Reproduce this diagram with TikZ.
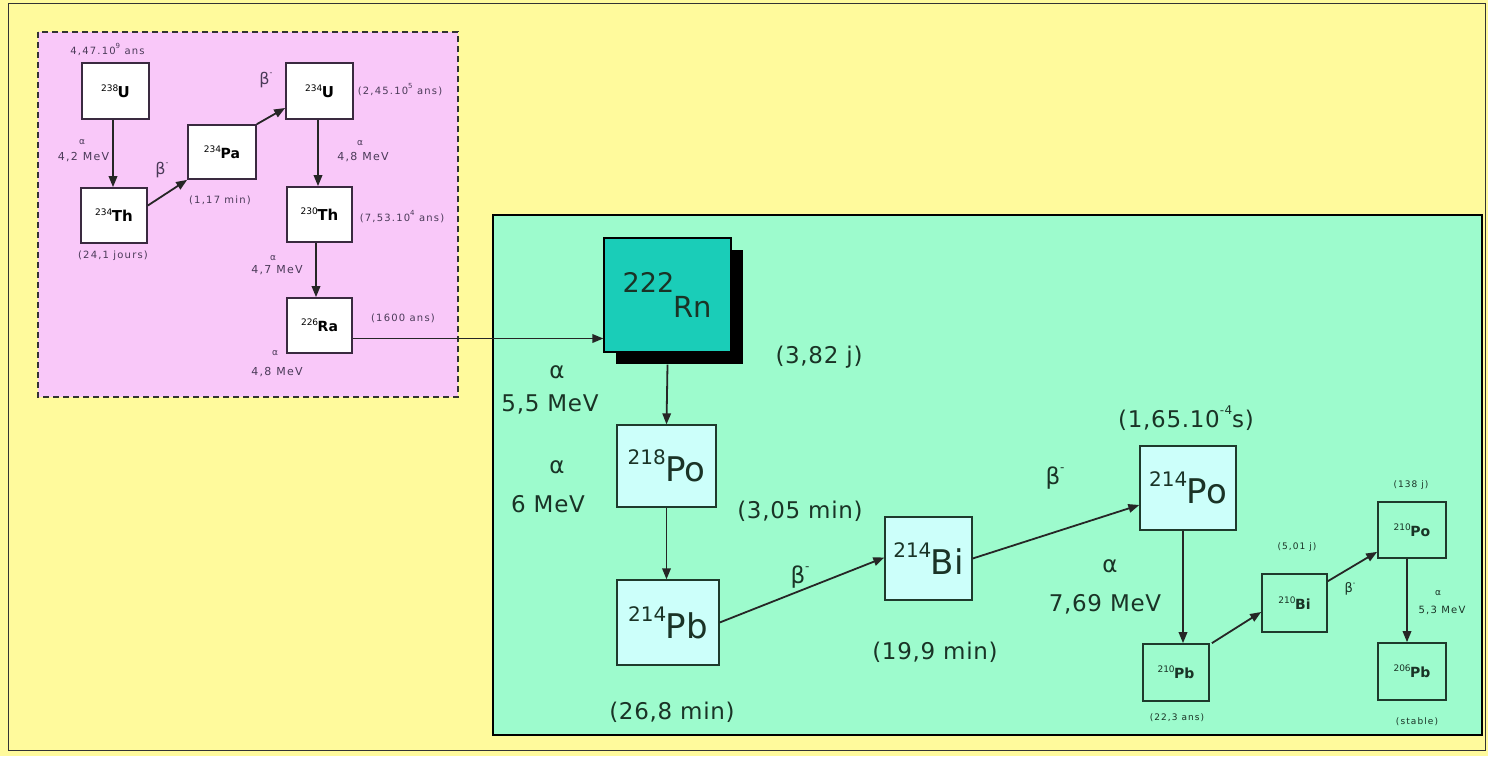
\documentclass[tikz,border=0pt]{standalone}
\usepackage{fontspec}
\setmainfont{DejaVu Sans}
\newfontfamily\widef[LetterSpace=12]{DejaVu Sans}
\newfontfamily\bigf[LetterSpace=3]{DejaVu Sans}
\usetikzlibrary{arrows.meta,shadows}
\definecolor{bgyellow}{HTML}{FFFA9C}
\definecolor{pinkbg}{HTML}{F9C8F9}
\definecolor{greenbg}{HTML}{9DFBCD}
\definecolor{rnteal}{HTML}{1ACDB8}
\definecolor{lightcyan}{HTML}{CCFFFA}
\definecolor{pinktext}{HTML}{4A3A58}
\definecolor{greentext}{HTML}{1A3326}
\definecolor{boxline}{HTML}{3A2A40}
\definecolor{gline}{HTML}{1E3A2C}
\newcommand\myfs[1]{\fontsize{#1}{#1}\selectfont}
% mass size, symbol size, raise, mass, symbol
\newcommand\iso[5]{{\myfs{#1}\raisebox{#3}{#4}}\kern-0.5pt{\myfs{#2}#5}}
\newcommand\betam[2]{{\myfs{#1}β\raisebox{0.55em}{\myfs{#2}-}}}
\begin{document}
\begin{tikzpicture}[x=1pt,y=-1pt,
  pbox/.style={draw=boxline, line width=1.7pt, fill=white, inner sep=0pt, text=black},
  gsbox/.style={draw=gline, line width=1.7pt, inner sep=0pt, text=greentext},
  gbbox/.style={draw=gline, line width=1.3pt, fill=lightcyan, inner sep=0pt, text=greentext},
  arr/.style={-{Triangle[length=11pt,width=8.5pt]}, line width=1.8pt, draw=black!85},
  plab/.style={text=pinktext, inner sep=0pt},
  glab/.style={text=greentext, inner sep=0pt, font=\bigf\myfs{23}},
  gsl/.style={text=greentext, inner sep=0pt, font=\widef\myfs{9}},
]
\useasboundingbox (0,0) rectangle (1488,756);
\fill[bgyellow] (0,0) rectangle (1488,756);
\draw[black!80, line width=1pt] (8,3) rectangle (1485,750);

% pink region
\fill[pinkbg] (38,32) rectangle (458,397);
\draw[black!80, line width=1.6pt, dash pattern=on 6pt off 4pt] (38,32) rectangle (458,397);

% green region
\fill[greenbg] (493,215) rectangle (1482,735);
\draw[black, line width=1.4pt] (493,215) rectangle (1482,735);

% ---- pink nodes
\node[pbox, minimum width=67pt, minimum height=56pt] (u238) at (115.5,91) {\iso{9}{15}{0.7em}{238}{\bfseries U}};
\node[pbox, minimum width=66pt, minimum height=55pt] (th234) at (114,215.5) {\iso{9}{15}{0.7em}{234}{\bfseries Th}};
\node[pbox, minimum width=68pt, minimum height=54pt] (pa234) at (222,152) {\iso{9}{14}{0.7em}{234}{\bfseries Pa}};
\node[pbox, minimum width=67pt, minimum height=56pt] (u234) at (319.5,91) {\iso{9}{15}{0.7em}{234}{\bfseries U}};
\node[pbox, minimum width=65pt, minimum height=55pt] (th230) at (319.5,214.5) {\iso{9}{15}{0.7em}{230}{\bfseries Th}};
\node[pbox, minimum width=65pt, minimum height=55pt] (ra226) at (319.5,325.5) {\iso{9}{14}{0.7em}{226}{\bfseries Ra}};

\node[plab, font=\widef\myfs{10}] (lu238) at (107.5,49) {4,47.10\raisebox{0.6em}{\myfs{7}9} ans};
\node[plab, font=\widef\myfs{10}] (lth234) at (113,256) {(24,1 jours)};
\node[plab, font=\widef\myfs{10}] (lpa234) at (220,200) {(1,17 min)};
\node[plab, font=\widef\myfs{10}] (lu234) at (400,90) {(2,45.10\raisebox{0.6em}{\myfs{7}5} ans)};
\node[plab, font=\widef\myfs{10}] (lth230) at (402,217) {(7,53.10\raisebox{0.6em}{\myfs{7}4} ans)};
\node[plab, font=\widef\myfs{10}] (lra226) at (403,318) {(1600 ans)};

\node[plab, font=\myfs{9}] (a1) at (82,142) {α};
\node[plab, font=\widef\myfs{11}] (e1) at (83.5,157) {4,2 MeV};
\node[plab] (b1) at (162,170) {\betam{16}{8}};
\node[plab] (b2) at (266,80) {\betam{16}{8}};
\node[plab, font=\myfs{9}] (a2) at (360,143) {α};
\node[plab, font=\widef\myfs{11}] (e2) at (363,157) {4,8 MeV};
\node[plab, font=\myfs{9}] (a3) at (273,258) {α};
\node[plab, font=\widef\myfs{11}] (e3) at (277,270) {4,7 MeV};
\node[plab, font=\myfs{9}] (a4) at (275,353) {α};
\node[plab, font=\widef\myfs{11}] (e4) at (277,372) {4,8 MeV};

\draw[arr] (u238.south -| 113,0) -- (th234.north -| 113,0);
\draw[arr] ([yshift=10pt]th234.east) -- (pa234.south west);
\draw[arr] (pa234.north east) -- ([yshift=-17pt]u234.west);
\draw[arr] (u234.south -| 318,0) -- (th230.north -| 318,0);
\draw[arr] (th230.south -| 316,0) -- (ra226.north -| 316,0);

% ---- green nodes
\node[draw=black, line width=1.2pt, fill=rnteal, inner sep=0pt, minimum width=127pt, minimum height=114pt,
  drop shadow={shadow xshift=12pt, shadow yshift=-12pt, opacity=1, fill=black}, text=greentext]
  (rn) at (667.5,295) {\iso{27}{29}{0.95em}{222}{Rn}};
\node[gbbox, minimum width=99pt, minimum height=82pt] (po218) at (666.5,466) {\iso{20}{34}{0.85em}{218}{Po}};
\node[gbbox, minimum width=102pt, minimum height=85pt] (pb214) at (668,622.5) {\iso{20}{34}{0.85em}{214}{Pb}};
\node[gbbox, minimum width=87pt, minimum height=83pt] (bi214) at (928.5,558.5) {\iso{20}{34}{0.85em}{214}{Bi}};
\node[gbbox, minimum width=96pt, minimum height=84pt] (po214) at (1188,488) {\iso{20}{34}{0.85em}{214}{Po}};
\node[gsbox, minimum width=66pt, minimum height=57pt] (pb210) at (1176,672.5) {\iso{9}{14}{0.7em}{210}{\bfseries Pb}};
\node[gsbox, minimum width=65pt, minimum height=58pt] (bi210) at (1294.5,603) {\iso{9}{14}{0.7em}{210}{\bfseries Bi}};
\node[gsbox, minimum width=68pt, minimum height=56pt] (po210) at (1412,530) {\iso{9}{14}{0.7em}{210}{\bfseries Po}};
\node[gsbox, minimum width=68pt, minimum height=57pt] (pb206) at (1412,671.5) {\iso{9}{14}{0.7em}{206}{\bfseries Pb}};

\node[glab] (lrn) at (819,357) {(3,82 j)};
\node[glab] (ga1) at (557,372) {α};
\node[glab] (ge1) at (550,404) {5,5 MeV};
\node[glab] (lpo218) at (800,511) {(3,05 min)};
\node[glab] (ga2) at (557,467) {α};
\node[glab] (ge2) at (548,504) {6 MeV};
\node[glab] (lpb214) at (672,712) {(26,8 min)};
\node[glab] (gb1) at (800,577) {\betam{23}{12}};
\node[glab] (lbi214) at (935,652) {(19,9 min)};
\node[glab] (gb2) at (1055,478) {\betam{23}{12}};
\node[glab] (lpo214) at (1186,418) {(1,65.10\raisebox{0.55em}{\myfs{12}-4}s)};
\node[glab] (ga3) at (1110,566) {α};
\node[glab] (ge3) at (1105,604) {7,69 MeV};

\node[gsl] (lpb210) at (1177,718) {(22,3 ans)};
\node[gsl] (lbi210) at (1297,547) {(5,01 j)};
\node[gsl] (lpo210) at (1411,485) {(138 j)};
\node[gsl] (lpb206) at (1417,722) {(stable)};
\node[gsl, font=\myfs{13}] (gb3) at (1350,589) {β\raisebox{0.55em}{\myfs{7}-}};
\node[gsl, font=\myfs{9}] (ga4) at (1438,593) {α};
\node[gsl, font=\widef\myfs{10}] (ge4) at (1442,610) {5,3 MeV};

\draw[arr] ([yshift=-13pt]ra226.east) -- ([yshift=-13pt]ra226.east -| rn.west);
\draw[arr] ([yshift=-12pt]rn.south) -- (po218.north);
\draw[arr] (po218.south) -- (pb214.north -| po218.south);
\draw[arr] (pb214.east) -- ([yshift=1pt]bi214.west);
\draw[arr] (bi214.east) -- ([yshift=-17pt]po214.west);
\draw[arr] (po214.south -| 1183,0) -- (pb210.north -| 1183,0);
\draw[arr] ([xshift=2pt]pb210.north east) -- ([yshift=-9pt]bi210.west);
\draw[arr] ([yshift=-8pt]bi210.north east) -- ([yshift=7pt]po210.south west);
\draw[arr] (po210.south -| 1407,0) -- (pb206.north -| 1407,0);
\end{tikzpicture}
\end{document}
